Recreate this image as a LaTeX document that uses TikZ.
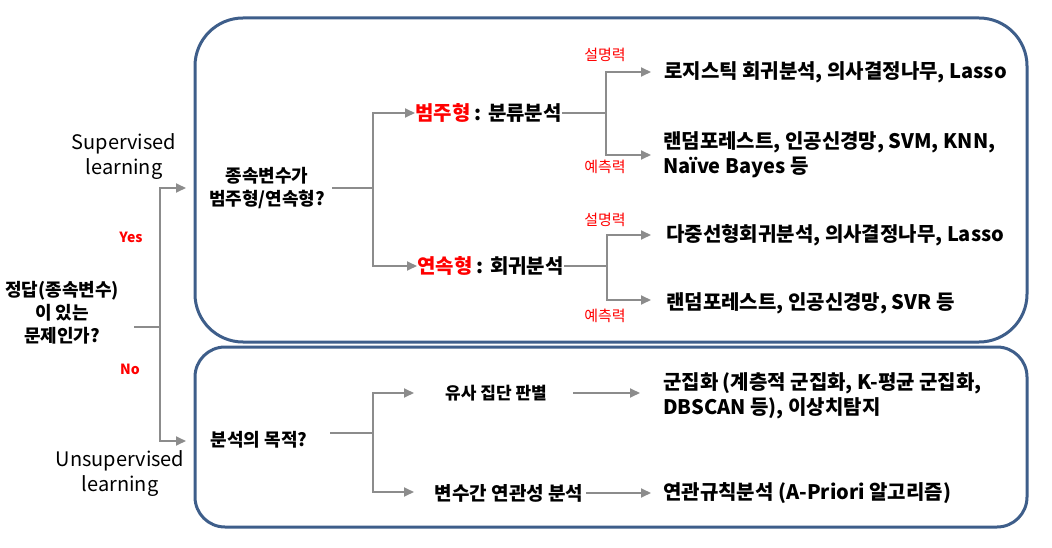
\documentclass[tikz,border=0pt]{standalone}
\usepackage{fontspec}
\setmainfont{Noto Sans CJK KR}
\usetikzlibrary{arrows.meta}
\definecolor{boxblue}{RGB}{62,94,138}
\definecolor{linegray}{RGB}{140,140,140}
\definecolor{lblred}{RGB}{255,0,0}
\tikzset{
  gl/.style={draw=linegray,line width=1.8pt},
  arr/.style={-{Triangle[length=10pt,width=9pt]}},
  bigbox/.style={draw=boxblue,line width=3pt},
  kt/.style={font=\fontsize{20}{25}\selectfont\bfseries,inner sep=0pt},
  km/.style={font=\fontsize{18}{23}\selectfont\bfseries,inner sep=0pt,align=center},
  en/.style={font=\fontsize{20}{25}\selectfont,inner sep=0pt,align=center},
  red/.style={font=\fontsize{15}{17}\selectfont,text=lblred,inner sep=0pt},
  yn/.style={font=\fontsize{14}{16}\selectfont\bfseries,text=lblred,inner sep=0pt},
}
\begin{document}
\begin{tikzpicture}[x=1pt,y=-1pt]
\useasboundingbox (0,0) rectangle (1052,548);
% boxes
\draw[bigbox,rounded corners=48pt] (195,18) rectangle (1027,342);
\draw[bigbox,rounded corners=30pt] (195,347) rectangle (1027,527);

% root
\node[km] (root) at (62,313) {정답(종속변수)\\이 있는\\문제인가?};
\coordinate (r0) at (134,327);
\coordinate (r1) at (160,327);
\coordinate (ys) at (186,188);
\coordinate (ns) at (186,441);
\draw[gl] (r0) -- (r1);
\draw[gl,arr] (r1) |- (ys);
\draw[gl,arr] (r1) |- (ns);
\node[en] (suplbl) at (124,157) {Supervised\\learning};
\node[en] (unslbl) at (120,474) {Unsupervised\\learning};
\node[yn] (yes) at (131,237) {Yes};
\node[yn] (no) at (130,369) {No};

% supervised
\node[km] (q1) at (267,188) {종속변수가\\범주형/연속형?};
\coordinate (q1a) at (332,188);
\coordinate (q1b) at (373,188);
\draw[gl] (q1a) -- (q1b);
\node[kt,anchor=west] (cat) at (415,113) {\textcolor{lblred}{범주형} : 분류분석};
\node[kt,anchor=west] (con) at (417,266) {\textcolor{lblred}{연속형} : 회귀분석};
\draw[gl,arr] (q1b) |- (cat.west);
\draw[gl,arr] (q1b) |- (con.west);

\coordinate (cj) at (606,113);
\coordinate (cj1) at (651,72);
\coordinate (cj2) at (651,155);
\draw[gl] (cat.east) -- (cj);
\draw[gl,arr] (cj) |- (cj1);
\draw[gl,arr] (cj) |- (cj2);
\node[red] (e1) at (605,55) {설명력};
\node[red] (p1) at (605,167) {예측력};
\node[kt,anchor=west] (r11) at (664,72) {로지스틱 회귀분석, 의사결정나무, Lasso};
\node[kt,anchor=west,align=left] (r12) at (663,155) {랜덤포레스트, 인공신경망, SVM, KNN,\\Naïve Bayes 등};

\coordinate (nj) at (607,266);
\coordinate (nj1) at (651,235);
\coordinate (nj2) at (651,300);
\draw[gl] (con.east) -- (nj);
\draw[gl,arr] (nj) |- (nj1);
\draw[gl,arr] (nj) |- (nj2);
\node[red] (e2) at (605,220) {설명력};
\node[red] (p2) at (605,316) {예측력};
\node[kt,anchor=west] (r21) at (666,235) {다중선형회귀분석, 의사결정나무, Lasso};
\node[kt,anchor=west] (r22) at (666,303) {랜덤포레스트, 인공신경망, SVR 등};

% unsupervised
\node[km] (q2) at (259,440) {분석의 목적?};
\coordinate (q2a) at (330,433);
\coordinate (q2b) at (373,433);
\draw[gl] (q2a) -- (q2b);
\coordinate (u1) at (414,393);
\coordinate (u2) at (414,492);
\draw[gl,arr] (q2b) |- (u1);
\draw[gl,arr] (q2b) |- (u2);
\node[km,font=\fontsize{17}{21}\selectfont\bfseries] (sim) at (496,393) {유사 집단 판별};
\node[km,font=\fontsize{19}{23}\selectfont\bfseries] (rel) at (509,493) {변수간 연관성 분석};
\node[kt,anchor=west,align=left] (clu) at (663,396) {군집화 (계층적 군집화, K-평균 군집화,\\DBSCAN 등), 이상치탐지};
\node[kt,anchor=west] (ass) at (663,493) {연관규칙분석 (A-Priori 알고리즘)};
\coordinate (s1) at (573,393);
\coordinate (s2) at (640,393);
\draw[gl,arr] (s1) -- (s2);
\draw[gl,arr,shorten <=3pt,shorten >=12pt] (rel.east) -- (ass.west);
\end{tikzpicture}
\end{document}
